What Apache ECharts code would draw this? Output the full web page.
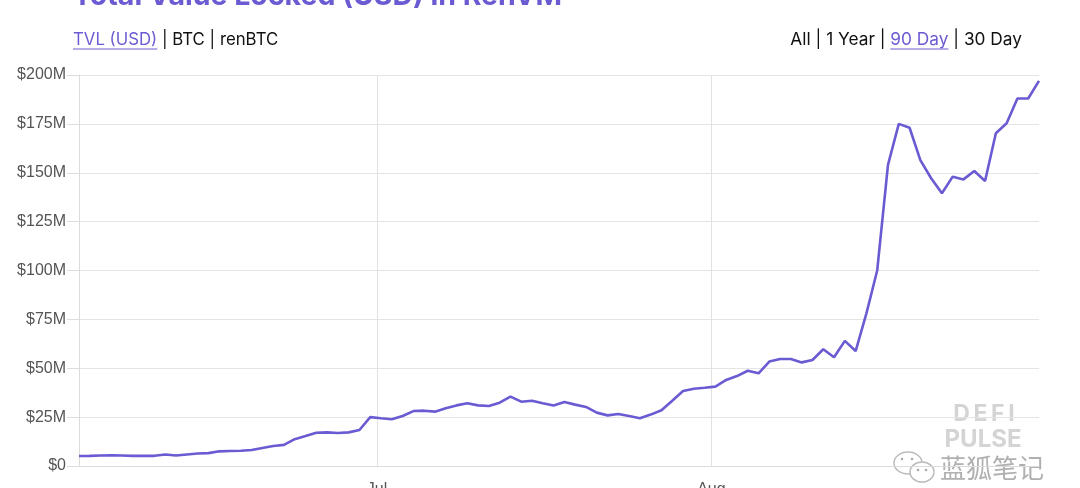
<!DOCTYPE html>
<html>
<head>
<meta charset="utf-8">
<script src="https://cdn.jsdelivr.net/npm/echarts@6/dist/echarts.min.js"></script>
<style>html,body{margin:0;padding:0;background:#fff}#c{width:1080px;height:488px}</style>
</head>
<body>
<div id="c"></div>
<script>
// ---- data ----
const startDate = [2020, 5, 3, 9]; // first sample: Jun 3 2020, 09:00 (daily samples)
const tvlMillions = [
  5.1, 5.2, 5.4, 5.5, 5.4, 5.2, 5.2, 5.2, 5.9, 5.4,
  5.9, 6.4, 6.6, 7.5, 7.7, 7.8, 8.2, 9.2, 10.2, 10.8,
  13.7, 15.3, 17.0, 17.2, 16.9, 17.2, 18.4, 25.0, 24.4, 23.9,
  25.6, 28.1, 28.3, 27.8, 29.5, 31.0, 32.1, 31.0, 30.7, 32.4,
  35.5, 32.9, 33.4, 32.1, 30.9, 32.7, 31.4, 30.2, 27.3, 25.9,
  26.6, 25.6, 24.4, 26.3, 28.5, 33.4, 38.4, 39.5, 40.0, 40.6,
  44.0, 46.0, 48.7, 47.4, 53.4, 54.7, 54.7, 53.0, 54.2, 59.7,
  55.6, 64.0, 58.8, 78.1, 100.0, 154.0, 175.0, 173.0, 156.5, 147.2,
  139.5, 148.0, 146.6, 150.9, 145.8, 170.2, 175.3, 188.0, 188.0, 197.0
];
const monthTicks = [[2020, 6, 1, 'Jul'], [2020, 7, 1, 'Aug']];
const yTicksMillions = [0, 25, 50, 75, 100, 125, 150, 175, 200];
const titleText = 'Total Value Locked (USD) in RenVM';
const leftLinks = ['TVL (USD)', 'BTC', 'renBTC'];
const rightLinks = ['All', '1 Year', '90 Day', '30 Day'];

// ---- build ----
const DAY = 86400000;
const t0 = new Date(startDate[0], startDate[1], startDate[2], startDate[3]).getTime();
const seriesData = tvlMillions.map((v, i) => [t0 + i * DAY, v * 1e6]);
const tickTimes = monthTicks.map(m => new Date(m[0], m[1], m[2]).getTime());
const tickNames = {};
monthTicks.forEach((m, i) => tickNames[tickTimes[i]] = m[3]);

const PURPLE = '#6a5bd3';
const FONT = 'Inter, "Noto Sans", sans-serif';
const ctx = document.createElement('canvas').getContext('2d');
function tw(s, size, weight) { ctx.font = (weight || 'normal') + ' ' + size + 'px ' + FONT; return ctx.measureText(s).width; }

const graphics = [];
graphics.push({ type: 'text', left: 73, top: -18, style: { text: titleText, fill: PURPLE, font: 'bold 28.5px ' + FONT } });

function linkRow(items, activeIdx, x0, baselineY, alignRight, size) {
  const sep = ' | ';
  let parts = [];
  items.forEach((s, i) => { parts.push({ s: s, active: i === activeIdx }); if (i < items.length - 1) parts.push({ s: sep }); });
  let total = parts.reduce((a, p) => a + tw(p.s, size), 0);
  let x = alignRight ? x0 - total : x0;
  parts.forEach(p => {
    const w = tw(p.s, size);
    graphics.push({ type: 'text', x: x, y: baselineY, style: { text: p.s, fill: p.active ? PURPLE : '#111', font: size + 'px ' + FONT, textVerticalAlign: 'bottom' } });
    if (p.active) {
      graphics.push({ type: 'line', shape: { x1: x, y1: baselineY + 1, x2: x + w, y2: baselineY + 1 }, style: { stroke: PURPLE, lineWidth: 1 } });
    }
    x += w;
  });
}
linkRow(leftLinks, 0, 73, 48, false, 16.8);
linkRow(rightLinks, 2, 1022, 48, true, 17.3);

graphics.push({ type: 'text', x: 984, y: 414, style: { text: 'D\u2009E\u2009F\u2009I', fill: '#d4d4d4', font: 'bold 23px ' + FONT, textAlign: 'center', textVerticalAlign: 'middle' } });
graphics.push({ type: 'text', x: 983, y: 440, style: { text: 'PULSE', fill: '#d4d4d4', font: 'bold 24px ' + FONT, textAlign: 'center', textVerticalAlign: 'middle' } });
graphics.push({ type: 'text', x: 992, y: 468, style: { text: '蓝狐笔记', fill: '#b0b0b0', stroke: '#fff', lineWidth: 3, font: '26px "Noto Sans CJK SC"', textAlign: 'center', textVerticalAlign: 'middle' } });
graphics.push({ type: 'ellipse', shape: { cx: 908, cy: 463, rx: 14, ry: 11 }, style: { fill: 'none', stroke: '#bbb', lineWidth: 1.5 } });
graphics.push({ type: 'ellipse', shape: { cx: 922, cy: 472, rx: 12, ry: 10 }, style: { fill: '#fff', stroke: '#bbb', lineWidth: 1.5 } });
[[902, 459], [912, 459], [918, 470], [926, 470]].forEach(p => graphics.push({ type: 'circle', shape: { cx: p[0], cy: p[1], r: 1.3 }, style: { fill: '#aaa' } }));

const chart = echarts.init(document.getElementById('c'), null, { renderer: 'canvas' });
chart.setOption({
  animation: false,
  backgroundColor: '#fff',
  grid: { left: 79, right: 41, top: 75, bottom: 22, containLabel: false, outerBoundsMode: 'none' },
  xAxis: {
    type: 'value',
    min: seriesData[0][0],
    max: seriesData[seriesData.length - 1][0],
    axisLine: { show: true, lineStyle: { color: '#dcdcdc' } },
    axisTick: { show: false, customValues: tickTimes },
    axisLabel: { customValues: tickTimes, formatter: v => tickNames[v] || '', color: '#555', fontSize: 16, fontFamily: 'Liberation Sans', margin: 16 },
    splitLine: { show: true, lineStyle: { color: '#e2e2e2', width: 1 } }
  },
  yAxis: {
    type: 'value',
    min: 0, max: 200e6, interval: 25e6,
    axisLine: { show: true, lineStyle: { color: '#dcdcdc' } },
    axisTick: { show: true, length: 12, lineStyle: { color: '#dcdcdc' } },
    axisLabel: { formatter: v => v === 0 ? '$0' : '$' + (v / 1e6) + 'M', color: '#555', fontSize: 16, fontFamily: 'Liberation Sans', margin: 13 },
    splitLine: { show: true, lineStyle: { color: '#e4e4e4', width: 1 } }
  },
  series: [{
    type: 'line', data: seriesData, showSymbol: false, symbol: 'none', smooth: false,
    lineStyle: { color: PURPLE, width: 2.6 }, z: 3
  }],
  graphic: graphics
});
</script>
</body>
</html>
